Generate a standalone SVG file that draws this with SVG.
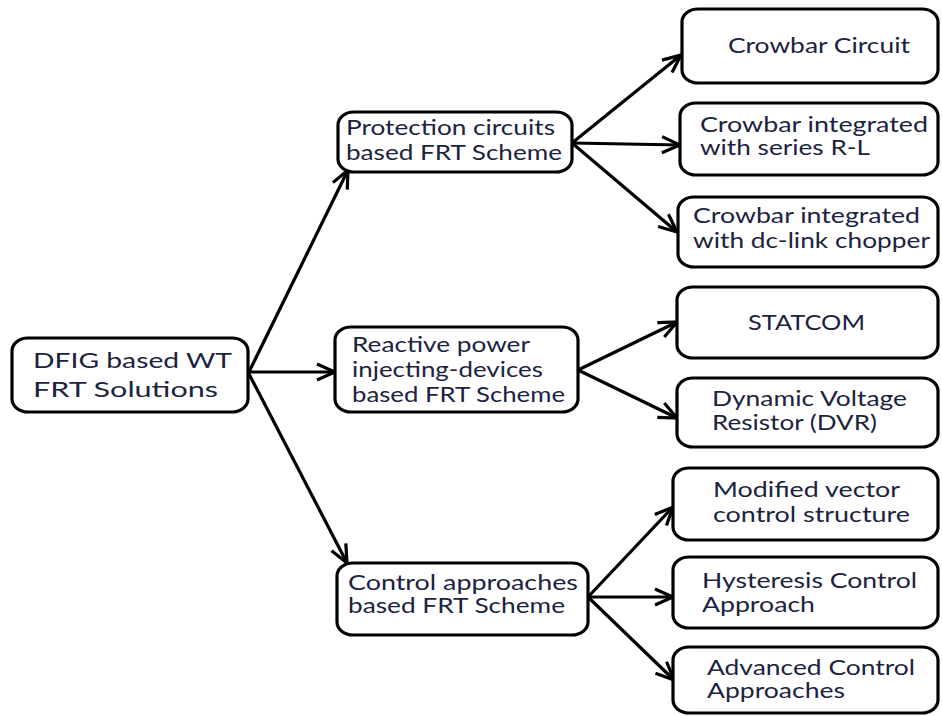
<svg xmlns="http://www.w3.org/2000/svg" width="942" height="716" viewBox="0 0 942 716">
<style>
.box{fill:#ffffff;stroke:#000000;stroke-width:3.2}
.t{font-family:Lato,"Open Sans","Liberation Sans",sans-serif;font-size:21px;fill:#1b2340}
.c{fill:none;stroke:#000000;stroke-width:3.2}
</style>
<defs>
<marker id="ah" viewBox="0 0 20 20" refX="19" refY="10" markerWidth="20" markerHeight="20" markerUnits="userSpaceOnUse" orient="auto">
<path d="M1,2 L19,10 L1,18" fill="none" stroke="#000" stroke-width="3.2"/>
</marker>
</defs>
<rect width="942" height="716" fill="#ffffff"/>
<g id="connectors">
<line class="c" x1="248" y1="374" x2="348" y2="170" marker-end="url(#ah)"/>
<line class="c" x1="248" y1="372" x2="335" y2="372" marker-end="url(#ah)"/>
<line class="c" x1="248" y1="372" x2="347" y2="563" marker-end="url(#ah)"/>
<line class="c" x1="572" y1="143" x2="681" y2="55" marker-end="url(#ah)"/>
<line class="c" x1="572" y1="143" x2="680" y2="145" marker-end="url(#ah)"/>
<line class="c" x1="572" y1="143" x2="677" y2="232" marker-end="url(#ah)"/>
<line class="c" x1="578" y1="370" x2="677" y2="322" marker-end="url(#ah)"/>
<line class="c" x1="578" y1="370" x2="677" y2="418" marker-end="url(#ah)"/>
<line class="c" x1="588" y1="597" x2="673" y2="507" marker-end="url(#ah)"/>
<line class="c" x1="588" y1="597" x2="673" y2="597" marker-end="url(#ah)"/>
<line class="c" x1="588" y1="597" x2="674" y2="680" marker-end="url(#ah)"/>
</g>
<g id="root">
<rect class="box" x="12" y="338" width="236" height="74" rx="16" ry="13"/>
<text class="t" x="33" y="368" textLength="199" lengthAdjust="spacingAndGlyphs">DFIG based WT</text>
<text class="t" x="33" y="397" textLength="185" lengthAdjust="spacingAndGlyphs">FRT Solutions</text>
</g>
<g id="protection">
<rect class="box" x="338" y="112" width="234" height="60" rx="16" ry="13"/>
<text class="t" x="346" y="135" textLength="209" lengthAdjust="spacingAndGlyphs">Protection circuits</text>
<text class="t" x="346" y="160" textLength="216" lengthAdjust="spacingAndGlyphs">based FRT Scheme</text>
</g>
<g id="crowbar">
<rect class="box" x="682" y="9" width="256" height="74" rx="16" ry="13"/>
<text class="t" x="728" y="53" textLength="182" lengthAdjust="spacingAndGlyphs">Crowbar Circuit</text>
</g>
<g id="crowbar-rl">
<rect class="box" x="680" y="103" width="258" height="72" rx="16" ry="13"/>
<text class="t" x="700" y="132" textLength="228" lengthAdjust="spacingAndGlyphs">Crowbar integrated</text>
<text class="t" x="700" y="155" textLength="170" lengthAdjust="spacingAndGlyphs">with series R-L</text>
</g>
<g id="crowbar-dc">
<rect class="box" x="678" y="197" width="260" height="70" rx="16" ry="13"/>
<text class="t" x="693" y="223" textLength="227" lengthAdjust="spacingAndGlyphs">Crowbar integrated</text>
<text class="t" x="693" y="248" textLength="237" lengthAdjust="spacingAndGlyphs">with dc-link chopper</text>
</g>
<g id="reactive">
<rect class="box" x="335" y="327" width="243" height="85" rx="16" ry="13"/>
<text class="t" x="352" y="352" textLength="178" lengthAdjust="spacingAndGlyphs">Reactive power</text>
<text class="t" x="352" y="377" textLength="191" lengthAdjust="spacingAndGlyphs">injecting-devices</text>
<text class="t" x="352" y="402" textLength="213" lengthAdjust="spacingAndGlyphs">based FRT Scheme</text>
</g>
<g id="statcom">
<rect class="box" x="677" y="287" width="261" height="71" rx="16" ry="13"/>
<text class="t" x="748" y="330" textLength="117" lengthAdjust="spacingAndGlyphs">STATCOM</text>
</g>
<g id="dvr">
<rect class="box" x="677" y="378" width="261" height="69" rx="16" ry="13"/>
<text class="t" x="712" y="406" textLength="195" lengthAdjust="spacingAndGlyphs">Dynamic Voltage</text>
<text class="t" x="712" y="430" textLength="165" lengthAdjust="spacingAndGlyphs">Resistor (DVR)</text>
</g>
<g id="control">
<rect class="box" x="337" y="563" width="251" height="72" rx="16" ry="13"/>
<text class="t" x="348" y="590" textLength="230" lengthAdjust="spacingAndGlyphs">Control approaches</text>
<text class="t" x="348" y="613" textLength="217" lengthAdjust="spacingAndGlyphs">based FRT Scheme</text>
</g>
<g id="modified">
<rect class="box" x="673" y="468" width="265" height="72" rx="16" ry="13"/>
<text class="t" x="713" y="497" textLength="187" lengthAdjust="spacingAndGlyphs">Modified vector</text>
<text class="t" x="713" y="522" textLength="197" lengthAdjust="spacingAndGlyphs">control structure</text>
</g>
<g id="hysteresis">
<rect class="box" x="673" y="557" width="265" height="71" rx="16" ry="13"/>
<text class="t" x="702" y="588" textLength="215" lengthAdjust="spacingAndGlyphs">Hysteresis Control</text>
<text class="t" x="702" y="612" textLength="113" lengthAdjust="spacingAndGlyphs">Approach</text>
</g>
<g id="advanced">
<rect class="box" x="673" y="647" width="265" height="66" rx="16" ry="13"/>
<text class="t" x="707" y="675" textLength="208" lengthAdjust="spacingAndGlyphs">Advanced Control</text>
<text class="t" x="707" y="698" textLength="138" lengthAdjust="spacingAndGlyphs">Approaches</text>
</g>
</svg>
